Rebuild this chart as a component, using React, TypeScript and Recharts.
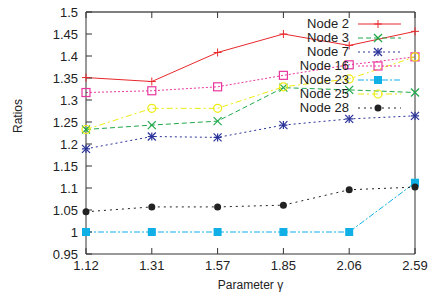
import React from 'react';
import { LineChart, Line, XAxis, YAxis } from 'recharts';

const gammas = ['1.12', '1.31', '1.57', '1.85', '2.06', '2.59'];
const node2 = [1.351, 1.342, 1.408, 1.45, 1.424, 1.456];
const node3 = [1.233, 1.243, 1.252, 1.328, 1.323, 1.317];
const node7 = [1.189, 1.217, 1.215, 1.243, 1.257, 1.264];
const node16 = [1.317, 1.321, 1.33, 1.356, 1.38, 1.398];
const node23 = [1.0, 1.0, 1.0, 1.0, 1.0, 1.112];
const node25 = [1.233, 1.281, 1.281, 1.33, 1.348, 1.398];
const node28 = [1.046, 1.057, 1.057, 1.061, 1.096, 1.102];
const yTicks = [0.95, 1, 1.05, 1.1, 1.15, 1.2, 1.25, 1.3, 1.35, 1.4, 1.45, 1.5];

const data = gammas.map((g, i) => ({
  g,
  n2: node2[i],
  n3: node3[i],
  n7: node7[i],
  n16: node16[i],
  n23: node23[i],
  n25: node25[i],
  n28: node28[i],
}));

type Shape = 'plus' | 'cross' | 'star' | 'square' | 'fsquare' | 'circle' | 'fcircle';

const series: { key: string; name: string; color: string; dash?: string; shape: Shape }[] = [
  { key: 'n2', name: 'Node 2', color: '#e8282c', shape: 'plus' },
  { key: 'n3', name: 'Node 3', color: '#1fa84a', dash: '5 3', shape: 'cross' },
  { key: 'n7', name: 'Node 7', color: '#2a3399', dash: '2 3', shape: 'star' },
  { key: 'n16', name: 'Node 16', color: '#e8389e', dash: '2 2', shape: 'square' },
  { key: 'n23', name: 'Node 23', color: '#10b0e6', dash: '6 2 2 2', shape: 'fsquare' },
  { key: 'n25', name: 'Node 25', color: '#ecec10', dash: '6 3 2 3', shape: 'circle' },
  { key: 'n28', name: 'Node 28', color: '#222222', dash: '2 4', shape: 'fcircle' },
];

const Marker = ({ cx, cy, shape, color }: { cx: number; cy: number; shape: Shape; color: string }) => {
  const s = 4;
  switch (shape) {
    case 'plus':
      return (
        <g stroke={color} strokeWidth={1}>
          <line x1={cx - s} y1={cy} x2={cx + s} y2={cy} />
          <line x1={cx} y1={cy - s} x2={cx} y2={cy + s} />
        </g>
      );
    case 'cross':
      return (
        <g stroke={color} strokeWidth={1.2}>
          <line x1={cx - s} y1={cy - s} x2={cx + s} y2={cy + s} />
          <line x1={cx - s} y1={cy + s} x2={cx + s} y2={cy - s} />
        </g>
      );
    case 'star':
      return (
        <g stroke={color} strokeWidth={1.2}>
          <line x1={cx - s} y1={cy} x2={cx + s} y2={cy} />
          <line x1={cx} y1={cy - s} x2={cx} y2={cy + s} />
          <line x1={cx - s} y1={cy - s} x2={cx + s} y2={cy + s} />
          <line x1={cx - s} y1={cy + s} x2={cx + s} y2={cy - s} />
        </g>
      );
    case 'square':
      return <rect x={cx - 4} y={cy - 4} width={8} height={8} fill="none" stroke={color} strokeWidth={1.2} />;
    case 'fsquare':
      return <rect x={cx - 4} y={cy - 4} width={8} height={8} fill={color} stroke="none" />;
    case 'circle':
      return <circle cx={cx} cy={cy} r={4} fill="none" stroke={color} strokeWidth={1.2} />;
    default:
      return <circle cx={cx} cy={cy} r={3.5} fill={color} stroke="none" />;
  }
};

const font = '"Liberation Sans", Arial, sans-serif';

const LegendBox = () => (
  <div style={{ position: 'absolute', top: 17, right: 41, fontFamily: font, fontSize: 13, color: '#222' }}>
    {series.map((s) => (
      <div key={s.key} style={{ display: 'flex', alignItems: 'center', height: 14, lineHeight: '14px', justifyContent: 'flex-end' }}>
        <span>{s.name}</span>
        <svg width={46} height={14} style={{ marginLeft: 7 }}>
          <line x1={2} y1={7} x2={45} y2={7} stroke={s.color} strokeWidth={1} strokeDasharray={s.dash} />
          <Marker cx={22} cy={7} shape={s.shape} color={s.color} />
        </svg>
      </div>
    ))}
  </div>
);

export default function App() {
  return (
    <div style={{ position: 'absolute', left: 0, top: 0, width: 443, height: 298, background: '#fff' }}>
      <LineChart width={443} height={298} data={data} margin={{ top: 11, right: 27, left: 0, bottom: 0 }}>
        <XAxis
          dataKey="g"
          height={44}
          tickSize={-6}
          tickMargin={13}
          axisLine={{ stroke: '#333' }}
          tickLine={{ stroke: '#333' }}
          tick={{ fill: '#222', fontSize: 13, fontFamily: font }}
          label={{ value: 'Parameter γ', position: 'insideBottom', offset: 9, fill: '#222', fontSize: 12, fontFamily: font }}
        />
        <XAxis
          xAxisId="top"
          dataKey="g"
          orientation="top"
          height={1}
          tickSize={-6}
          tickFormatter={() => ''}
          axisLine={{ stroke: '#555', strokeWidth: 1.5 }}
          tickLine={{ stroke: '#333' }}
        />
        <YAxis
          domain={[0.95, 1.5]}
          ticks={yTicks}
          width={86}
          tickSize={-6}
          tickMargin={14}
          interval={0}
          allowDataOverflow
          axisLine={{ stroke: '#333' }}
          tickLine={{ stroke: '#333' }}
          tick={{ fill: '#222', fontSize: 13, fontFamily: font }}
          label={{ value: 'Ratios', angle: -90, position: 'insideLeft', offset: 18, fill: '#222', fontSize: 12, fontFamily: font }}
        />
        <YAxis
          yAxisId="right"
          orientation="right"
          domain={[0.95, 1.5]}
          ticks={yTicks}
          width={1}
          tickSize={-6}
          interval={0}
          tickFormatter={() => ''}
          axisLine={{ stroke: '#333' }}
          tickLine={{ stroke: '#333' }}
        />
        {series.map((s) => (
          <Line
            key={s.key}
            dataKey={s.key}
            name={s.name}
            stroke={s.color}
            strokeWidth={1}
            strokeDasharray={s.dash}
            isAnimationActive={false}
            dot={(p: any) => <Marker key={`${s.key}-${p.index}`} cx={p.cx} cy={p.cy} shape={s.shape} color={s.color} />}
            activeDot={false}
          />
        ))}
      </LineChart>
      <LegendBox />
    </div>
  );
}
